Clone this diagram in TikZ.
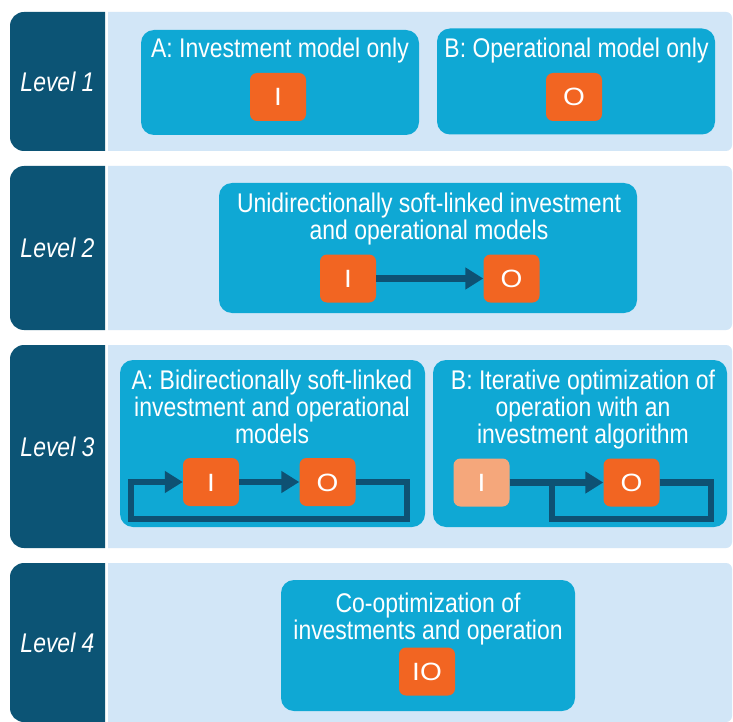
\documentclass[tikz,border=0pt]{standalone}
\usepackage{fontspec}
\setmainfont{Liberation Sans}[FakeStretch=0.85]
\newfontfamily\sqfont{Liberation Sans}[FakeStretch=1.12]
\usetikzlibrary{arrows.meta}
\definecolor{tabblue}{HTML}{0C5475}
\definecolor{bgblue}{HTML}{D2E6F7}
\definecolor{boxcyan}{HTML}{0FA8D4}
\definecolor{orng}{HTML}{F26522}
\definecolor{lightorng}{HTML}{F5A77B}
\definecolor{linecol}{HTML}{0E5173}
\begin{document}
\begin{tikzpicture}[x=1pt,y=-1pt,
  txt/.style={font=\fontsize{27}{27}\selectfont, text=white, align=center, inner sep=0pt, anchor=north},
  lvl/.style={font=\fontsize{27}{27}\selectfont\itshape, text=white, inner sep=0pt},
  sq/.style={fill=orng, rounded corners=7pt, minimum width=56pt, minimum height=48pt, inner sep=0pt,
    text=white, font=\sqfont\fontsize{25}{25}\selectfont, text height=18pt, text depth=0pt},
  panel/.style={fill=boxcyan, rounded corners=13pt, inner sep=0pt},
  flow/.style={draw=linecol, line width=6.5pt, line join=miter},
  tip/.style={-{Triangle[length=18pt,width=21pt]}}
]
\useasboundingbox (0,0) rectangle (733,722);
\fill[white] (0,0) rectangle (733,722);
% rows: tabs and backgrounds
\foreach \t/\b in {12/151, 166/330, 345/548, 563/722}{
  \fill[tabblue] (105,\t) [rounded corners=14pt] -- (10,\t) -- (10,\b) [sharp corners] -- (105,\b) -- cycle;
  \fill[bgblue] (108,\t) [rounded corners=6pt] -- (732,\t) -- (732,\b) [sharp corners] -- (108,\b) -- cycle;
}
\node[lvl] (L1) at (57.5,81.5) {Level 1};
\node[lvl] (L2) at (57.5,248) {Level 2};
\node[lvl] (L3) at (57.5,446.5) {Level 3};
\node[lvl] (L4) at (57.5,642.5) {Level 4};

% Level 1
\node[panel, minimum width=278pt, minimum height=105pt] (p1a) at (280,82.5) {};
\node[panel, minimum width=278pt, minimum height=106pt] (p1b) at (576,81.5) {};
\node[txt] (t1a) at (280,37.5) {A: Investment model only};
\node[txt] (t1b) at (576.5,37.5) {B: Operational model only};
\node[sq] (I1) at (278,97) {I};
\node[sq] (O1) at (574,97) {O};

% Level 2
\node[panel, minimum width=418pt, minimum height=130pt] (p2) at (428,248) {};
\node[txt] (t2) at (429,192.5) {Unidirectionally soft-linked investment\\and operational models};
\node[sq] (I2) at (348,278.5) {I};
\node[sq] (O2) at (511.5,278.5) {O};
\draw[flow, tip] (I2.east) -- (O2.west);

% Level 3
\node[panel, minimum width=305pt, minimum height=167pt] (p3a) at (272.5,443.5) {};
\node[panel, minimum width=294pt, minimum height=167pt] (p3b) at (580,443.5) {};
\node[txt] (t3a) at (272,369.5) {A: Bidirectionally soft-linked\\investment and operational\\models};
\node[txt] (t3b) at (583,369.5) {B: Iterative optimization of\\operation with an\\investment algorithm};
\node[sq] (I3a) at (211,482) {I};
\node[sq] (O3a) at (327.5,482) {O};
\coordinate (a3r) at (407,519);
\coordinate (a3l) at (131,519);
\draw[flow, tip] (I3a.east) -- (O3a.west);
\draw[flow, tip] (O3a.east) -| (a3r) -| (a3l) |- (I3a.west);
\node[sq, fill=lightorng] (I3b) at (481.5,482.5) {I};
\node[sq] (O3b) at (631.5,482.5) {O};
\coordinate (b3r) at (711,519);
\coordinate (b3l) at (552,519);
\draw[flow, tip] (I3b.east) -- (O3b.west);
\draw[flow] (O3b.east) -| (b3r) -| (b3l) -- (b3l |- O3b.west);

% Level 4
\node[panel, minimum width=294pt, minimum height=131pt] (p4) at (428,645.5) {};
\node[txt] (t4) at (428,592.5) {Co-optimization of\\investments and operation};
\node[sq] (IO4) at (427,671.5) {IO};
\end{tikzpicture}
\end{document}
